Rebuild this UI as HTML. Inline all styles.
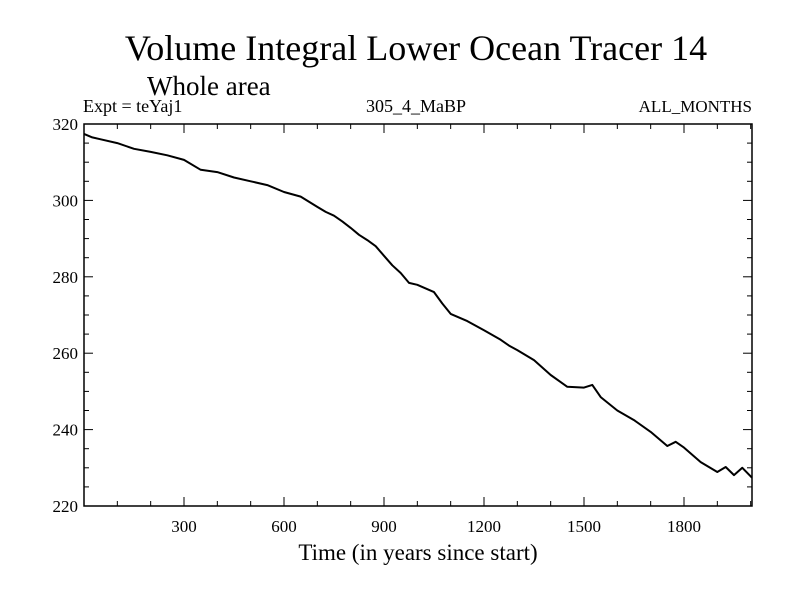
<!DOCTYPE html>
<html><head><meta charset="utf-8"><style>
body{margin:0;background:#fff}
svg text{font-family:"Liberation Serif",serif;fill:#000}
</style></head><body>
<svg id="c" width="800" height="600">
<text x="416" y="60" font-size="36" text-anchor="middle">Volume Integral Lower Ocean Tracer 14</text>
<text x="147" y="95" font-size="27">Whole area</text>
<text x="83" y="112" font-size="18">Expt = teYaj1</text>
<text x="416" y="112" font-size="18" text-anchor="middle">305_4_MaBP</text>
<text x="752" y="112" font-size="17" text-anchor="end">ALL_MONTHS</text>
<text x="418" y="560" font-size="23" text-anchor="middle">Time (in years since start)</text>
<g id="axes"></g>
<path id="line" fill="none" stroke="#000" stroke-width="2" stroke-linejoin="round"></path>
</svg>
<script>
const years=[0,25,50,100,150,200,250,300,350,400,450,500,550,600,650,700,725,750,775,800,825,850,875,900,925,950,975,1000,1050,1075,1100,1150,1200,1250,1275,1300,1350,1400,1450,1500,1525,1550,1600,1650,1700,1750,1775,1800,1850,1900,1925,1950,1975,2004];
const values=[317.4,316.5,316,315,313.5,312.7,311.8,310.6,308,307.4,306,305,304,302.2,301,298.3,297,296,294.5,292.8,291,289.6,288,285.5,283,281,278.4,277.9,276,273,270.3,268.4,266,263.5,262,260.8,258.2,254.3,251.2,251,251.7,248.5,245,242.5,239.4,235.7,236.8,235.3,231.5,228.9,230.2,228.1,230,227.4];
const xTicks=[300,600,900,1200,1500,1800];
const yTicks=[220,240,260,280,300,320];
const L=84,R=752,T=124,B=506,X0=0,X1=2004,Y0=220,Y1=320;
const sx=v=>L+(v-X0)/(X1-X0)*(R-L);
const sy=v=>B-(v-Y0)/(Y1-Y0)*(B-T);
const ns="http://www.w3.org/2000/svg";
const ax=document.getElementById('axes');
function mk(t,a){const e=document.createElementNS(ns,t);for(const k in a)e.setAttribute(k,a[k]);ax.appendChild(e);return e;}
const fr=mk('rect',{x:L,y:T,width:R-L,height:B-T,fill:'none',stroke:'#000','stroke-width':1.5});


for(let v=100;v<X1;v+=100){const len=v%300===0?9:5;const x=sx(v);
 mk('line',{x1:x,y1:B,x2:x,y2:B-len,stroke:'#000'});mk('line',{x1:x,y1:T,x2:x,y2:T+len,stroke:'#000'});}
for(let v=Y0+5;v<Y1;v+=5){const len=v%20===0?9:5;const y=sy(v);
 mk('line',{x1:L,y1:y,x2:L+len,y2:y,stroke:'#000'});mk('line',{x1:R,y1:y,x2:R-len,y2:y,stroke:'#000'});}
xTicks.forEach(v=>{const t=mk('text',{x:sx(v),y:B+26,'font-size':17,'text-anchor':'middle'});t.textContent=v;
 
 });
yTicks.forEach(v=>{const t=mk('text',{x:L-6,y:sy(v)+6,'font-size':17,'text-anchor':'end'});t.textContent=v;
 
 });
document.getElementById('line').setAttribute('d',years.map((y,i)=>(i?'L':'M')+sx(y).toFixed(1)+' '+sy(values[i]).toFixed(1)).join(''));
</script>
</body></html>
